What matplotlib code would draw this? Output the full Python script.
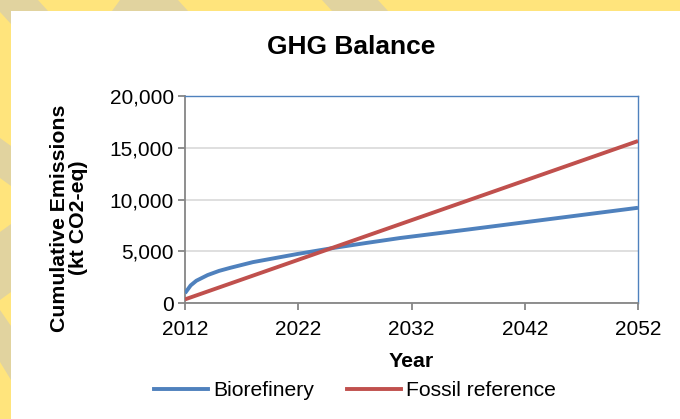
import matplotlib
matplotlib.use("Agg")
import matplotlib.pyplot as plt
from matplotlib.patches import Polygon, Rectangle
from matplotlib.lines import Line2D
from matplotlib.ticker import FuncFormatter

plt.rcParams['font.family'] = ['Liberation Sans', 'DejaVu Sans']

# data (cumulative emissions, kt CO2-eq)
bio_years = [2012, 2012.5, 2013, 2014, 2015, 2016, 2018, 2020, 2022, 2025, 2028, 2031, 2037, 2042, 2047, 2052]
bio_values = [950, 1700, 2150, 2700, 3100, 3400, 3950, 4350, 4750, 5300, 5800, 6280, 7100, 7800, 8500, 9200]
fossil_years = [2012, 2022, 2032, 2042, 2052]
fossil_values = [350, 4175, 8000, 11825, 15650]
x_ticks = [2012, 2022, 2032, 2042, 2052]
y_ticks = [0, 5000, 10000, 15000, 20000]

W, H = 680, 419
fig = plt.figure(figsize=(W / 100, H / 100), dpi=100)
fig.patch.set_facecolor('#FFE47C')

def px(points):
    return [(x / W, 1 - y / H) for x, y in points]

# tan chevron stripes of the slide background
stripes = [
    [(0, 0), (38, 0), (48, 11), (0, 11)],
    [(120, 0), (178, 0), (188, 11), (112, 11)],
    [(322, 0), (378, 0), (388, 11), (332, 11)],
    [(0, 0), (11, 0), (11, 24), (0, 12)],
    [(0, 138), (11, 146), (11, 186), (0, 178)],
    [(0, 232), (11, 224), (11, 292), (0, 300)],
    [(0, 310), (11, 326), (11, 380), (0, 362)],
]
for s in stripes:
    fig.add_artist(Polygon(px(s), closed=True, transform=fig.transFigure,
                           facecolor='#E1D39F', edgecolor='none', zorder=0))
fig.add_artist(Rectangle((11 / W, 0), 1, 1 - 11 / H, transform=fig.transFigure,
                         facecolor='white', edgecolor='none', zorder=0.5))

ax = fig.add_axes([185 / W, (H - 303) / H, (638 - 185) / W, (303 - 96) / H])
ax.set_zorder(2)
ax.set_facecolor('white')
ax.plot(bio_years, bio_values, color='#4F81BD', lw=2.8, solid_capstyle='butt', zorder=3)
ax.plot(fossil_years, fossil_values, color='#C0504D', lw=2.8, solid_capstyle='butt', zorder=3)

ax.set_xlim(2012, 2052)
ax.set_ylim(0, 20000)
ax.set_xticks(x_ticks)
ax.set_yticks(y_ticks)
ax.yaxis.set_major_formatter(FuncFormatter(lambda v, p: f'{int(v):,}'))
ax.grid(axis='y', color='#D9D9D9', lw=1.2)
ax.set_axisbelow(True)

for side in ['left', 'bottom']:
    ax.spines[side].set_color('#868686')
    ax.spines[side].set_linewidth(1.3)
for side in ['top', 'right']:
    ax.spines[side].set_color('#4F81BD')
    ax.spines[side].set_linewidth(1.0)
ax.tick_params(axis='both', colors='#868686', labelcolor='black', labelsize=15,
               length=5, width=1.3, direction='out')
ax.tick_params(axis='x', pad=7)
ax.tick_params(axis='y', pad=3)

fig.text(351 / W, 1 - 47 / H, 'GHG Balance', ha='center', va='center',
         fontsize=19, fontweight='bold')
fig.text(69 / W, 1 - 218 / H, 'Cumulative Emissions\n(kt CO2-eq)', ha='center', va='center',
         rotation=90, fontsize=15.3, fontweight='bold', linespacing=1.0)
fig.text(411 / W, 1 - 361 / H, 'Year', ha='center', va='center',
         fontsize=15.3, fontweight='bold')

handles = [Line2D([], [], color='#4F81BD', lw=2.8),
           Line2D([], [], color='#C0504D', lw=2.8)]
fig.legend(handles, ['Biorefinery', 'Fossil reference'], loc='center',
           bbox_to_anchor=(355 / W, 1 - 391 / H), ncol=2, frameon=False,
           fontsize=15.2, handlelength=2.55, handletextpad=0.25, columnspacing=1.55,
           borderpad=0, borderaxespad=0)

fig.savefig('out.png', dpi=100, facecolor=fig.get_facecolor())
